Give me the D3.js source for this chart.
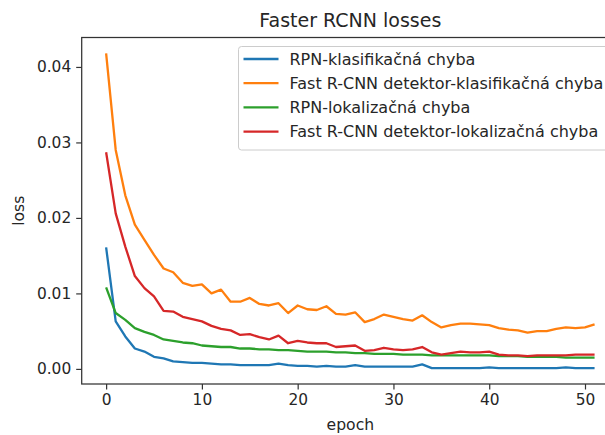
<!DOCTYPE html>
<html><head><meta charset="utf-8">
<script src="https://cdn.jsdelivr.net/npm/d3@7"></script>
<style>
html,body{margin:0;padding:0;background:#fff;}
svg{display:block;font-family:"DejaVu Sans",sans-serif;}
</style></head>
<body><svg id="c" width="605" height="435"></svg>
<script>
const epochs = d3.range(0, 52);
const seriesNames = ["RPN-klasifikačná chyba","Fast R-CNN detektor-klasifikačná chyba","RPN-lokalizačná chyba","Fast R-CNN detektor-lokalizačná chyba"];
const seriesColors = ["#1f77b4","#ff7f0e","#2ca02c","#d62728"];
const rpnCls = [0.0161,0.0063,0.0043,0.0027,0.0023,0.0016,0.0014,0.0010,0.0009,0.0008,0.0008,0.0007,0.0006,0.0006,0.0005,0.0005,0.0005,0.0005,0.0007,0.0005,0.0004,0.0004,0.0003,0.0004,0.0003,0.0003,0.0005,0.0003,0.0003,0.0003,0.0003,0.0003,0.0003,0.0006,0.0001,0.0001,0.0001,0.0001,0.0001,0.0001,0.0002,0.0001,0.0001,0.0001,0.0001,0.0001,0.0001,0.0001,0.0002,0.0001,0.0001,0.0001];
const fastCls = [0.0418,0.0290,0.0230,0.0191,0.0171,0.0151,0.0133,0.0128,0.0114,0.0110,0.0112,0.0100,0.0105,0.0089,0.0089,0.0094,0.0086,0.0084,0.0087,0.0074,0.0084,0.0079,0.0078,0.0083,0.0073,0.0072,0.0075,0.0062,0.0066,0.0072,0.0069,0.0066,0.0064,0.0071,0.0062,0.0055,0.0058,0.0060,0.0060,0.0059,0.0058,0.0054,0.0052,0.0051,0.0048,0.0050,0.0050,0.0053,0.0055,0.0054,0.0055,0.0059];
const rpnLoc = [0.0108,0.0074,0.0065,0.0054,0.0049,0.0045,0.0039,0.0037,0.0035,0.0034,0.0031,0.0030,0.0029,0.0029,0.0027,0.0027,0.0026,0.0026,0.0025,0.0025,0.0024,0.0023,0.0023,0.0023,0.0022,0.0022,0.0021,0.0021,0.0020,0.0020,0.0020,0.0019,0.0019,0.0019,0.0018,0.0018,0.0018,0.0018,0.0018,0.0018,0.0018,0.0017,0.0017,0.0017,0.0016,0.0016,0.0016,0.0016,0.0015,0.0015,0.0015,0.0015];
const fastLoc = [0.0287,0.0206,0.0162,0.0123,0.0107,0.0096,0.0077,0.0076,0.0069,0.0066,0.0063,0.0057,0.0053,0.0051,0.0045,0.0046,0.0042,0.0039,0.0044,0.0034,0.0037,0.0035,0.0034,0.0034,0.0029,0.0030,0.0031,0.0024,0.0025,0.0028,0.0026,0.0025,0.0026,0.0029,0.0022,0.0019,0.0021,0.0023,0.0022,0.0022,0.0023,0.0019,0.0018,0.0018,0.0017,0.0018,0.0018,0.0018,0.0018,0.0019,0.0019,0.0019];
const xTicks = [0,10,20,30,40,50];
const yTicks = [0.00,0.01,0.02,0.03,0.04];
const allSeries = [rpnCls, fastCls, rpnLoc, fastLoc];

const svg = d3.select("#c");
const L = 81.7, R = 619, T = 37.5, B = 384;
const x = d3.scaleLinear().domain([-2.55, 53.55]).range([L, R]);
const y = d3.scaleLinear().domain([-0.0020, 0.0439]).range([B, T]);
const txt = "#262626";

// lines
const line = d3.line().x((d,i)=>x(epochs[i])).y(d=>y(d));
allSeries.forEach((s,k)=>{
  svg.append("path").datum(s).attr("d", line).attr("fill","none")
    .attr("stroke", seriesColors[k]).attr("stroke-width", 2.3)
    .attr("stroke-linejoin","round").attr("stroke-linecap","butt");
});

// axes
const xa = svg.append("g").attr("transform",`translate(0,${B})`)
  .call(d3.axisBottom(x).tickValues(xTicks).tickFormat(d3.format("d")).tickSize(5.5).tickPadding(5));
const ya = svg.append("g").attr("transform",`translate(${L},0)`)
  .call(d3.axisLeft(y).tickValues(yTicks).tickFormat(d3.format(".2f")).tickSize(5.5).tickPadding(5));
[xa,ya].forEach(g=>{
  g.select(".domain").remove();
  g.selectAll(".tick line").attr("stroke","#333").attr("stroke-width",1.2);
  g.selectAll(".tick text").attr("fill",txt).style("font-size","15.4px").style("font-family","DejaVu Sans");
});
// spines
svg.append("rect").attr("x",L).attr("y",T).attr("width",R-L).attr("height",B-T)
  .attr("fill","none").attr("stroke","#333").attr("stroke-width",1.25);

// title & labels
svg.append("text").attr("x",(L+R)/2).attr("y",27).attr("text-anchor","middle")
  .attr("fill",txt).style("font-size","19px").text("Faster RCNN losses");
svg.append("text").attr("x",(L+R)/2).attr("y",430).attr("text-anchor","middle")
  .attr("fill",txt).style("font-size","15.6px").text("epoch");
svg.append("text").attr("transform",`translate(24,${(T+B)/2}) rotate(-90)`).attr("text-anchor","middle")
  .attr("fill",txt).style("font-size","15.6px").text("loss");

// legend
const lg = svg.append("g");
lg.append("rect").attr("x",238.5).attr("y",46.5).attr("width",372).attr("height",103.5)
  .attr("rx",3).attr("fill","#fff").attr("fill-opacity",0.8).attr("stroke","#cccccc").attr("stroke-width",1);
seriesNames.forEach((n,k)=>{
  const yy = 59 + k*24.2;
  lg.append("line").attr("x1",243.5).attr("x2",278.5).attr("y1",yy).attr("y2",yy)
    .attr("stroke",seriesColors[k]).attr("stroke-width",2.3);
  lg.append("text").attr("x",289.5).attr("y",yy+5.7).attr("fill",txt)
    .style("font-size","16px").text(n);
});
</script></body></html>
